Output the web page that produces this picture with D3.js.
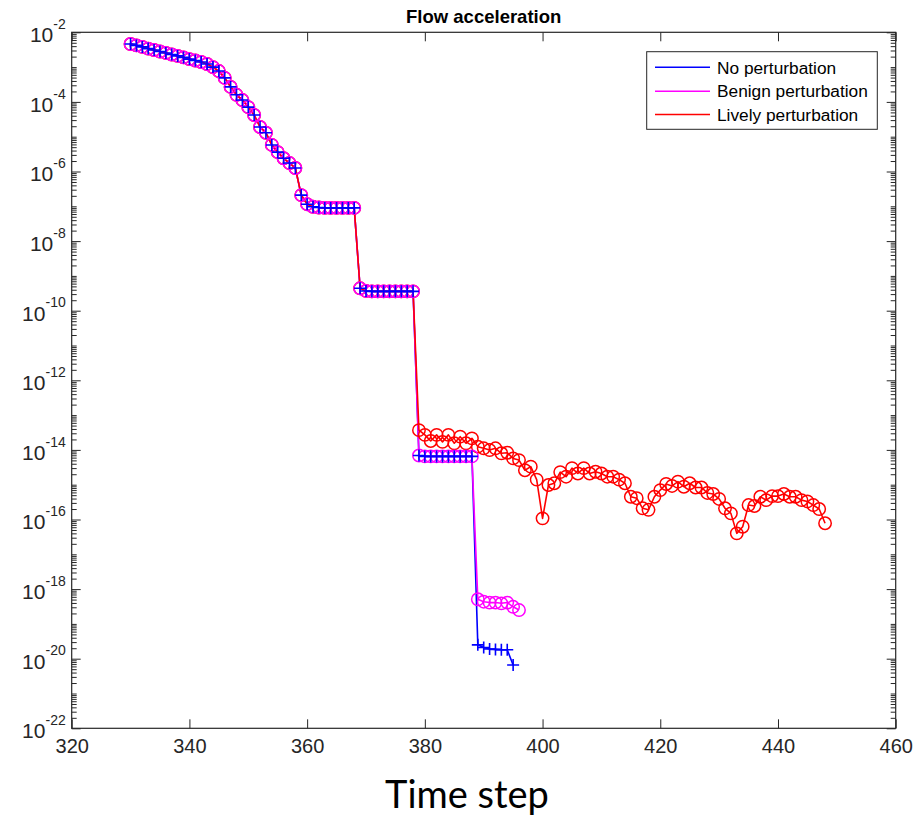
<!DOCTYPE html>
<html>
<head>
<meta charset="utf-8">
<script src="https://cdn.jsdelivr.net/npm/d3@7/dist/d3.min.js"></script>
<style>
  html, body { margin: 0; padding: 0; background: #fff; }
  svg { display: block; }
</style>
</head>
<body>
<svg id="chart" width="924" height="817"></svg>
<script>
// Flow acceleration per time step (log scale), three runs.
const firstStep = 330;          // step of the first recorded value
const tailStartStep = 379;      // step where the runs start to differ

// Steps 330..378: identical for all three runs
const sharedHead = [
  4.6e-3, 4.2e-3, 3.8e-3, 3.4e-3, 3.1e-3, 2.8e-3, 2.55e-3, 2.3e-3, 2.1e-3, 1.9e-3,
  1.7e-3, 1.55e-3, 1.4e-3, 1.23e-3, 1.0e-3, 7.7e-4, 4.9e-4, 2.7e-4, 1.6e-4, 1.13e-4,
  7.1e-5, 4.2e-5, 1.9e-5, 1.3e-5, 5.8e-6, 3.6e-6, 2.4e-6, 1.75e-6, 1.26e-6, 2.1e-7,
  1.15e-7, 9.7e-8, 9.2e-8, 9.0e-8, 9.0e-8, 9.0e-8, 9.0e-8, 9.0e-8, 9.0e-8, 4.4e-10,
  3.7e-10, 3.6e-10, 3.6e-10, 3.6e-10, 3.6e-10, 3.6e-10, 3.6e-10, 3.6e-10, 3.6e-10
];

// Steps 379..395
const noPertTail = [
  6.9e-15, 6.5e-15, 6.5e-15, 6.5e-15, 6.5e-15, 6.5e-15, 6.5e-15, 6.5e-15, 6.5e-15, 6.5e-15,
  2.5e-20, 2.1e-20, 1.9e-20, 1.85e-20, 1.8e-20, 1.8e-20, 6.6e-21
];

// Steps 379..396
const benignTail = [
  6.9e-15, 6.5e-15, 6.5e-15, 6.5e-15, 6.5e-15, 6.5e-15, 6.5e-15, 6.5e-15, 6.5e-15, 6.5e-15,
  5.1e-19, 4.35e-19, 4.1e-19, 4.1e-19, 3.9e-19, 4.1e-19, 3.1e-19, 2.5e-19
];

// Steps 379..448
const livelyTail = [
  3.7e-14, 2.7e-14, 1.8e-14, 2.7e-14, 1.7e-14, 2.7e-14, 1.55e-14, 2.4e-14, 1.55e-14, 2.15e-14,
  1.24e-14, 1.11e-14, 9.9e-15, 1.11e-14, 8.0e-15, 8.3e-15, 5.7e-15, 5.1e-15, 2.6e-15, 3.3e-15,
  1.4e-15, 1.08e-16, 9.8e-16, 1.1e-15, 2.3e-15, 1.7e-15, 3.0e-15, 2.1e-15, 3.0e-15, 2.1e-15,
  2.36e-15, 2.1e-15, 1.7e-15, 1.7e-15, 1.4e-15, 1.1e-15, 4.5e-16, 4.1e-16, 2.1e-16, 1.9e-16,
  4.5e-16, 7.0e-16, 1.05e-15, 9.2e-16, 1.22e-15, 8.75e-16, 1.1e-15, 8.3e-16, 8.3e-16, 5.8e-16,
  5.4e-16, 3.9e-16, 2.1e-16, 1.5e-16, 4.0e-17, 6.2e-17, 2.6e-16, 2.44e-16, 4.5e-16, 3.6e-16,
  4.7e-16, 4.7e-16, 5.4e-16, 4.5e-16, 4.5e-16, 3.6e-16, 3.3e-16, 2.6e-16, 2.0e-16, 7.8e-17
];

const seriesNames = ["No perturbation", "Benign perturbation", "Lively perturbation"];
const seriesColors = ["#0000ff", "#ff00ff", "#ff0000"];
const xTicks = [320, 340, 360, 380, 400, 420, 440, 460];
const yTickExponents = [-2, -4, -6, -8, -10, -12, -14, -16, -18, -20, -22];

function toPoints(head, tail) {
  const pts = head.map((v, i) => ({ t: firstStep + i, v }));
  tail.forEach((v, i) => pts.push({ t: tailStartStep + i, v }));
  return pts;
}
const noPert = toPoints(sharedHead, noPertTail);
const benign = toPoints(sharedHead, benignTail);
const lively = toPoints(sharedHead, livelyTail);

const svg = d3.select("#chart");
const L = 71.7, R = 895.7, T = 32.3, B = 728.3;
const axisColor = "#262626";
const sans = "Liberation Sans, Arial, Helvetica, sans-serif";

const x = d3.scaleLinear().domain([320, 460]).range([L, R]);
const y = d3.scaleLog().domain([1e-22, 1e-2]).range([B, T]);

svg.append("rect").attr("width", 924).attr("height", 817).attr("fill", "#fff");

// minor log ticks: k * 10^n (odd decades included)
const minorTicks = [];
for (let e = -22; e < -2; e++) {
  for (let k = 1; k <= 9; k++) {
    if (k === 1 && (e % 2 === 0)) continue;
    minorTicks.push(k * Math.pow(10, e));
  }
}
const majorY = yTickExponents.map(e => Math.pow(10, e));

function styleAxis(g) {
  g.selectAll("path.domain").remove();
  g.selectAll(".tick line").attr("stroke", axisColor).attr("stroke-width", 1);
}

// x axes (bottom + top), ticks pointing inward
svg.append("g").attr("transform", `translate(0,${B})`)
  .call(d3.axisBottom(x).tickValues(xTicks).tickSizeInner(-9).tickSizeOuter(0).tickPadding(11).tickFormat(d3.format("d")))
  .call(styleAxis)
  .call(g => g.selectAll("text").attr("fill", axisColor)
    .attr("font-family", sans).attr("font-size", 20));
svg.append("g").attr("transform", `translate(0,${T})`)
  .call(d3.axisTop(x).tickValues(xTicks).tickSizeInner(-9).tickSizeOuter(0).tickFormat(""))
  .call(styleAxis);

// y axes (left + right): major and minor ticks
svg.append("g").attr("transform", `translate(${L},0)`)
  .call(d3.axisLeft(y).tickValues(minorTicks).tickSizeInner(-5).tickSizeOuter(0).tickFormat(""))
  .call(styleAxis);
svg.append("g").attr("transform", `translate(${R},0)`)
  .call(d3.axisRight(y).tickValues(minorTicks).tickSizeInner(-5).tickSizeOuter(0).tickFormat(""))
  .call(styleAxis);
svg.append("g").attr("transform", `translate(${R},0)`)
  .call(d3.axisRight(y).tickValues(majorY).tickSizeInner(-9).tickSizeOuter(0).tickFormat(""))
  .call(styleAxis);
const yAxisG = svg.append("g").attr("transform", `translate(${L},0)`)
  .call(d3.axisLeft(y).tickValues(majorY).tickSizeInner(-9).tickSizeOuter(0).tickPadding(8).tickFormat(""))
  .call(styleAxis);

yAxisG.selectAll(".tick").each(function (d) {
  const exp = Math.round(Math.log10(d));
  const t = d3.select(this).select("text")
    .attr("x", -6).attr("dy", null).attr("y", 0)
    .attr("text-anchor", "end")
    .attr("fill", axisColor)
    .attr("font-family", sans);
  t.append("tspan").attr("font-size", 21).attr("dy", "0.45em").text("10");
  t.append("tspan").attr("font-size", 14).attr("dy", "-0.95em").text(String(exp));
});

// frame
svg.append("rect").attr("x", L).attr("y", T).attr("width", R - L).attr("height", B - T)
  .attr("fill", "none").attr("stroke", axisColor).attr("stroke-width", 1.2);

// lines (drawn blue, magenta, red)
const line = d3.line().x(d => x(d.t)).y(d => y(d.v));
const plotG = svg.append("g");
[noPert, benign, lively].forEach((pts, i) => {
  plotG.append("path").datum(pts).attr("d", line)
    .attr("fill", "none").attr("stroke", seriesColors[i]).attr("stroke-width", 1.6)
    .attr("stroke-linejoin", "round");
});

// markers: red circles, magenta circles, blue crosses
plotG.append("g").selectAll("circle").data(lively).join("circle")
  .attr("cx", d => x(d.t)).attr("cy", d => y(d.v)).attr("r", 6.2)
  .attr("fill", "none").attr("stroke", seriesColors[2]).attr("stroke-width", 1.5);
plotG.append("g").selectAll("circle").data(benign).join("circle")
  .attr("cx", d => x(d.t)).attr("cy", d => y(d.v)).attr("r", 6.2)
  .attr("fill", "none").attr("stroke", seriesColors[1]).attr("stroke-width", 1.5);
plotG.append("g").selectAll("path").data(noPert).join("path")
  .attr("d", d => {
    const cx = x(d.t), cy = y(d.v), s = 6;
    return `M${cx - s},${cy}H${cx + s}M${cx},${cy - s}V${cy + s}`;
  })
  .attr("fill", "none").attr("stroke", seriesColors[0]).attr("stroke-width", 1.6);

// title
svg.append("text").attr("x", (L + R) / 2).attr("y", 23).attr("text-anchor", "middle")
  .attr("font-family", sans).attr("font-weight", "bold")
  .attr("font-size", 18.5).attr("fill", "#000").text("Flow acceleration");

// x label
svg.append("text").attr("x", 467).attr("y", 808).attr("text-anchor", "middle")
  .attr("font-family", "Lato, 'Noto Sans', sans-serif")
  .attr("font-size", 38).attr("fill", "#000").text("Time step");

// legend
const lg = svg.append("g");
lg.append("rect").attr("x", 646.7).attr("y", 51.7).attr("width", 230.6).attr("height", 77.6)
  .attr("fill", "#fff").attr("stroke", axisColor).attr("stroke-width", 1);
const rowsY = [67.3, 91.2, 114.5];
seriesNames.forEach((name, i) => {
  lg.append("line").attr("x1", 655).attr("x2", 710).attr("y1", rowsY[i]).attr("y2", rowsY[i])
    .attr("stroke", seriesColors[i]).attr("stroke-width", 1.6);
  lg.append("text").attr("x", 717).attr("y", rowsY[i]).attr("dy", "0.36em")
    .attr("font-family", sans).attr("font-size", 17.3)
    .attr("fill", "#000").text(name);
});
</script>
</body>
</html>
